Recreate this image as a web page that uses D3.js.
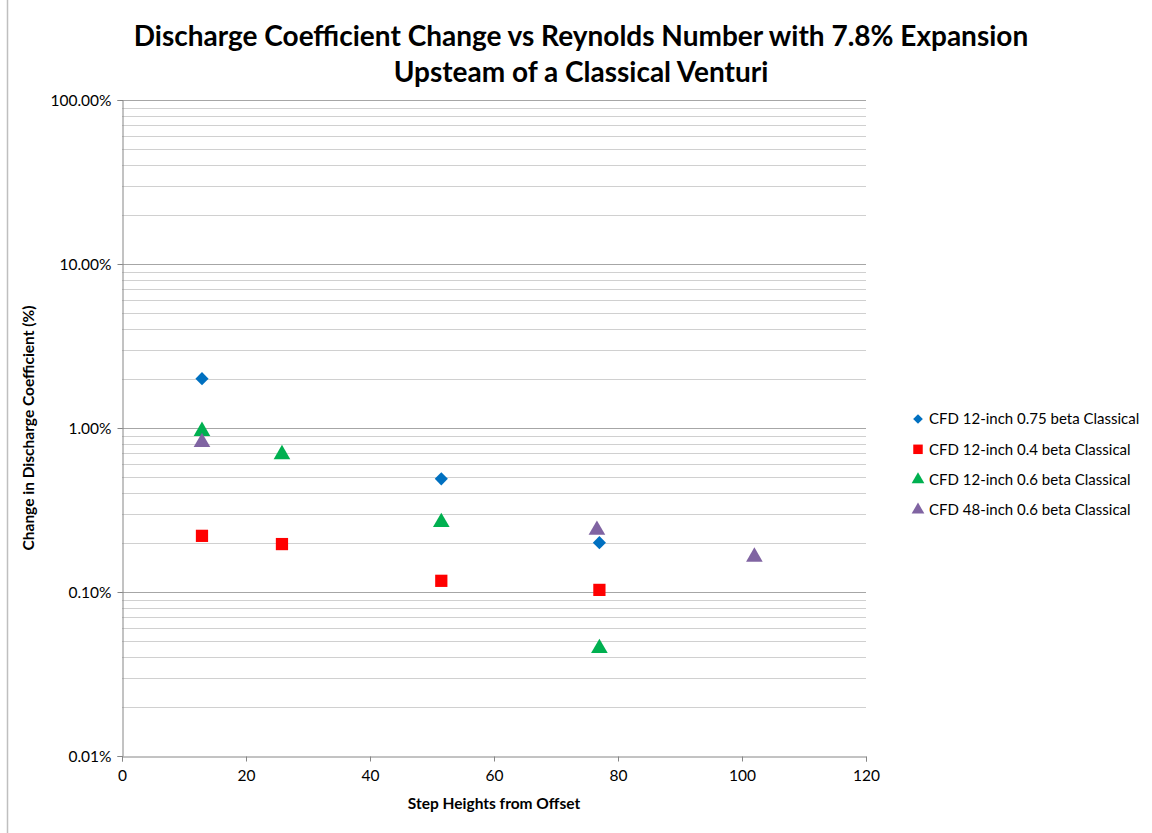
<!DOCTYPE html>
<html>
<head>
<meta charset="utf-8">
<script src="https://cdn.jsdelivr.net/npm/d3@7/dist/d3.min.js"></script>
<style>
  html, body { margin: 0; padding: 0; background: #fff; }
  svg { display: block; font-family: Lato, "Open Sans", sans-serif; }
</style>
</head>
<body>
<svg id="chart" width="1152" height="833"></svg>
<script>
// Step heights (x) and change in discharge coefficient (%) for each CFD case
const seriesNames = [
  "CFD 12-inch 0.75 beta Classical",
  "CFD 12-inch 0.4 beta Classical",
  "CFD 12-inch 0.6 beta Classical",
  "CFD 48-inch 0.6 beta Classical"
];
const beta075_12in = [[12.9, 2.0], [51.5, 0.49], [77, 0.20]];
const beta04_12in  = [[12.9, 0.22], [25.8, 0.196], [51.5, 0.117], [77, 0.103]];
const beta06_12in  = [[12.9, 0.97], [25.8, 0.70], [51.5, 0.27], [77, 0.046]];
const beta06_48in  = [[12.9, 0.83], [76.6, 0.242], [102, 0.166]];
const xTicks = [0, 20, 40, 60, 80, 100, 120];
const yTicks = [0.01, 0.1, 1, 10, 100];

const svg = d3.select("#chart");
const W = 1152, H = 833;
const plot = { left: 122, right: 866, top: 100, bottom: 756 };

// outer chart border
svg.append("rect").attr("x", 7.5).attr("y", -1).attr("width", W + 2).attr("height", H + 2)
  .attr("fill", "none").attr("stroke", "#bfbfbf").attr("stroke-width", 1.5);

const x = d3.scaleLinear().domain([0, 120]).range([plot.left, plot.right]);
const y = d3.scaleLog().domain([0.01, 100]).range([plot.bottom, plot.top]);

// gridlines: minor (2..9) and major (decades)
const minor = [];
for (let d = 0.01; d < 100; d *= 10) for (let k = 2; k <= 9; k++) minor.push(d * k);
svg.append("g").selectAll("line").data(minor).join("line")
  .attr("x1", plot.left).attr("x2", plot.right)
  .attr("y1", v => Math.round(y(v)) + 0.5).attr("y2", v => Math.round(y(v)) + 0.5)
  .attr("stroke", "#d0d0d0").attr("stroke-width", 1);
svg.append("g").selectAll("line").data(yTicks.slice(1)).join("line")
  .attr("x1", plot.left).attr("x2", plot.right)
  .attr("y1", v => Math.round(y(v)) + 0.5).attr("y2", v => Math.round(y(v)) + 0.5)
  .attr("stroke", "#a6a6a6").attr("stroke-width", 1);

// axes
const yAxis = d3.axisLeft(y).tickValues(yTicks)
  .tickFormat(v => (v).toFixed(2) + "%").tickSize(5).tickPadding(6);
const gy = svg.append("g").attr("transform", `translate(${plot.left + 0.5},0)`).call(yAxis);
const xAxis = d3.axisBottom(x).tickValues(xTicks).tickSize(5).tickPadding(8);
const gx = svg.append("g").attr("transform", `translate(0,${plot.bottom + 0.5})`).call(xAxis);
[gx, gy].forEach(g => {
  g.select(".domain").attr("stroke", "#868686");
  g.selectAll(".tick line").attr("stroke", "#868686");
  g.selectAll(".tick text").attr("fill", "#000").style("font-size", "15.5px")
    .style("font-family", "Lato, 'Open Sans', sans-serif");
});
gy.selectAll(".tick text").attr("dy", "0.35em");

// marker shapes
const symbols = [
  d3.symbol().type(d3.symbolDiamond2).size(110),
  d3.symbol().type(d3.symbolSquare).size(150),
  d3.symbol().type(d3.symbolTriangle).size(120),
  d3.symbol().type(d3.symbolTriangle).size(120)
];
const colors = ["#0070c0", "#ff0000", "#00b050", "#8064a2"];
const allSeries = [beta075_12in, beta04_12in, beta06_12in, beta06_48in];

allSeries.forEach((data, i) => {
  svg.append("g").selectAll("path").data(data).join("path")
    .attr("d", symbols[i]())
    .attr("transform", d => `translate(${x(d[0])},${y(d[1]) + (i >= 2 ? 1 : 0)})`)
    .attr("fill", colors[i]);
});

// title
svg.append("text").attr("x", 581).attr("y", 46).attr("text-anchor", "middle")
  .style("font-size", "28px").style("font-weight", "bold")
  .text("Discharge Coefficient Change vs Reynolds Number with 7.8% Expansion");
svg.append("text").attr("x", 581).attr("y", 82).attr("text-anchor", "middle")
  .style("font-size", "28px").style("font-weight", "bold")
  .text("Upsteam of a Classical Venturi");

// axis titles
svg.append("text").attr("x", (plot.left + plot.right) / 2).attr("y", 809).attr("text-anchor", "middle")
  .style("font-size", "15.5px").style("font-weight", "bold").text("Step Heights from Offset");
svg.append("text").attr("transform", `translate(34,${(plot.top + plot.bottom) / 2}) rotate(-90)`)
  .attr("text-anchor", "middle")
  .style("font-size", "15.5px").style("font-weight", "bold").text("Change in Discharge Coefficient (%)");

// legend
const legend = svg.append("g").attr("transform", "translate(918,419)");
const legendSymbols = [
  d3.symbol().type(d3.symbolDiamond2).size(60),
  d3.symbol().type(d3.symbolSquare).size(90),
  d3.symbol().type(d3.symbolTriangle).size(70),
  d3.symbol().type(d3.symbolTriangle).size(70)
];
seriesNames.forEach((name, i) => {
  const row = legend.append("g").attr("transform", `translate(0,${i * 30.3})`);
  row.append("path").attr("d", legendSymbols[i]()).attr("fill", colors[i]);
  row.append("text").attr("x", 11).attr("y", 0).attr("dy", "0.35em")
    .style("font-size", "15px").text(name);
});
</script>
</body>
</html>
